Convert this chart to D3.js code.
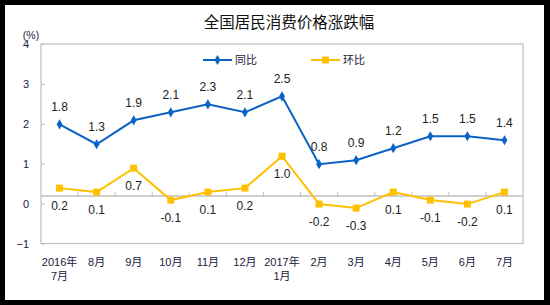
<!DOCTYPE html>
<html>
<head>
<meta charset="utf-8">
<script src="https://cdn.jsdelivr.net/npm/d3@7"></script>
<style>
  body { margin: 0; background: #000; }
  svg { display: block; }
  text { font-family: "Liberation Sans", Arial, "Noto Sans CJK SC", sans-serif; }
</style>
</head>
<body>
<div id="chart"></div>
<script>
// month labels (two lines where the year changes)
const months = ['2016年\n7月', '8月', '9月', '10月', '11月', '12月', '2017年\n1月',
  '2月', '3月', '4月', '5月', '6月', '7月'];
const yoy = [1.8, 1.3, 1.9, 2.1, 2.3, 2.1, 2.5, 0.8, 0.9, 1.2, 1.5, 1.5, 1.4]; // 同比
const mom = [0.2, 0.1, 0.7, -0.1, 0.1, 0.2, 1.0, -0.2, -0.3, 0.1, -0.1, -0.2, 0.1]; // 环比
const yTicks = [-1, 0, 1, 2, 3, 4];

const width = 550, height = 305;
const plot = { left: 41, right: 523, top: 44, bottom: 243.5 };
const blue = '#0b63c5', gold = '#ffc000', frame = '#bfbfbf';

const svg = d3.select('#chart').append('svg')
  .attr('width', width).attr('height', height);

svg.append('rect').attr('x', 5).attr('y', 5).attr('width', 539).attr('height', 295)
  .attr('fill', '#fff');

const x = d3.scaleBand().domain(months).range([plot.left, plot.right]).padding(0);
const cx = (d) => x(d) + x.bandwidth() / 2;

// the axis labels sit a little lower than the plotted values in the original
const yAxisScale = d3.scaleLinear().domain([-1, 4]).range([plot.bottom, plot.top]);
const y = d3.scaleLinear().domain([-1, 4]).range([plot.bottom - 7.5, plot.top - 7.5]);

// title
svg.append('text').attr('x', 289).attr('y', 28).attr('text-anchor', 'middle')
  .style('font-family', '"Noto Sans CJK SC", sans-serif')
  .style('font-size', '15.5px').attr('fill', '#111').text('全国居民消费价格涨跌幅');

// frame
svg.append('rect').attr('x', plot.left).attr('y', plot.top)
  .attr('width', plot.right - plot.left).attr('height', plot.bottom - plot.top)
  .attr('fill', 'none').attr('stroke', frame).attr('stroke-width', 1.2);

// y axis
const yAxis = svg.append('g').attr('transform', `translate(${plot.left},0)`)
  .call(d3.axisLeft(yAxisScale).tickValues(yTicks).tickSize(-4).tickPadding(12)
    .tickFormat(d3.format('d')));
yAxis.select('.domain').remove();
yAxis.selectAll('.tick line').attr('stroke', frame);
yAxis.selectAll('.tick text').attr('fill', '#202040').style('font-size', '11px')
  .attr('dy', '0.36em');

svg.append('text').attr('x', 31).attr('y', 38.5).attr('text-anchor', 'middle')
  .style('font-size', '10.5px').attr('fill', '#202040').text('(%)');

// category axis line at zero
svg.append('line').attr('x1', plot.left).attr('x2', plot.right)
  .attr('y1', y(0)).attr('y2', y(0)).attr('stroke', frame).attr('stroke-width', 1.5);
svg.append('g').selectAll('line').data(months.slice(1)).join('line')
  .attr('x1', (d) => x(d)).attr('x2', (d) => x(d))
  .attr('y1', y(0)).attr('y2', y(0) - 4).attr('stroke', frame);

// month labels
const xl = svg.append('g').selectAll('text').data(months).join('text')
  .attr('x', cx).attr('y', 266).attr('text-anchor', 'middle')
  .style('font-size', '11px').attr('fill', '#202040');
xl.each(function (d) {
  d.split('\n').forEach((s, i) => {
    d3.select(this).append('tspan').attr('x', cx(d)).attr('dy', i ? 14 : 0).text(s);
  });
});

const line = d3.line().x((d, i) => cx(months[i])).y((d) => y(d));

// 环比 series
svg.append('path').datum(mom).attr('d', line).attr('fill', 'none')
  .attr('stroke', gold).attr('stroke-width', 2);
svg.append('g').selectAll('rect').data(mom).join('rect')
  .attr('x', (d, i) => cx(months[i]) - 3.5).attr('y', (d) => y(d) - 3.5)
  .attr('width', 7).attr('height', 7).attr('fill', gold);

// 同比 series
svg.append('path').datum(yoy).attr('d', line).attr('fill', 'none')
  .attr('stroke', blue).attr('stroke-width', 2);
const diamond = d3.symbol().type(d3.symbolDiamond).size(30);
svg.append('g').selectAll('path').data(yoy).join('path')
  .attr('d', diamond)
  .attr('transform', (d, i) => `translate(${cx(months[i])},${y(d)})`)
  .attr('fill', blue);

// data labels
svg.append('g').selectAll('text').data(yoy).join('text')
  .attr('x', (d, i) => cx(months[i])).attr('y', (d) => y(d) - 17.5 + 4.3)
  .attr('text-anchor', 'middle').style('font-size', '12px').attr('fill', '#222')
  .text((d) => d.toFixed(1));
svg.append('g').selectAll('text').data(mom).join('text')
  .attr('x', (d, i) => cx(months[i])).attr('y', (d) => y(d) + 17.5 + 4.3)
  .attr('text-anchor', 'middle').style('font-size', '12px').attr('fill', '#222')
  .text((d) => d.toFixed(1));

// legend
const legend = [
  { name: '同比', color: blue, x: 203 },
  { name: '环比', color: gold, x: 311 },
];
const lg = svg.append('g').selectAll('g').data(legend).join('g')
  .attr('transform', (d) => `translate(${d.x},60)`);
lg.append('line').attr('x1', 0).attr('x2', 29).attr('stroke', (d) => d.color)
  .attr('stroke-width', 2);
lg.filter((d) => d.name === '同比').append('path').attr('d', diamond)
  .attr('transform', 'translate(14.5,0)').attr('fill', blue);
lg.filter((d) => d.name === '环比').append('rect')
  .attr('x', 11).attr('y', -3.5).attr('width', 7).attr('height', 7).attr('fill', gold);
lg.append('text').attr('x', 32).attr('y', 4).style('font-size', '11px')
  .style('font-family', '"Noto Sans CJK SC", sans-serif')
  .attr('fill', '#202040').text((d) => d.name);
</script>
</body>
</html>
